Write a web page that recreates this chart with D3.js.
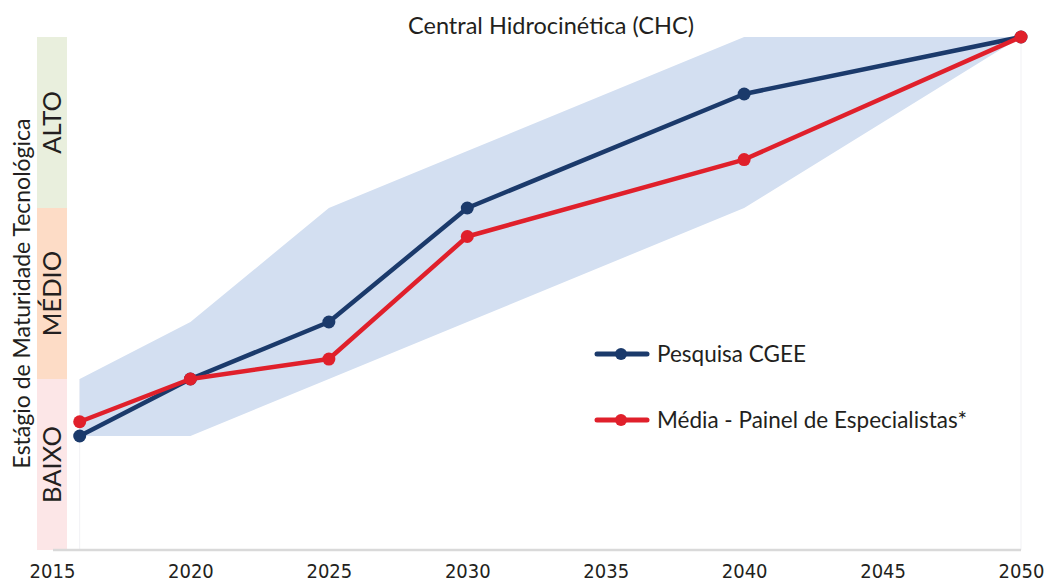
<!DOCTYPE html>
<html>
<head>
<meta charset="utf-8">
<script src="https://cdn.jsdelivr.net/npm/d3@7"></script>
<style>
  html, body { margin: 0; padding: 0; background: #fff; }
  svg { display: block; }
</style>
</head>
<body>
<svg id="chart" width="1046" height="582"></svg>
<script>
// Technology readiness stage (0–9) over time
const years = [2016, 2020, 2025, 2030, 2040, 2050];
const pesquisaCGEE = [2, 3, 4, 6, 8, 9];
const mediaPainel = [2.25, 3, 3.35, 5.5, 6.85, 9];
const faixaSuperior = [3, 4, 6, 7, 9, 9];
const faixaInferior = [2, 2, 3, 4, 6, 9];
const xTicks = [2015, 2020, 2025, 2030, 2035, 2040, 2045, 2050];
const stages = [
  { label: "BAIXO", from: 0, to: 3, color: "#fce6e7" },
  { label: "MÉDIO", from: 3, to: 6, color: "#fddcc6" },
  { label: "ALTO", from: 6, to: 9, color: "#e9efdd" }
];
const seriesNames = ["Pesquisa CGEE", "Média - Painel de Especialistas*"];
const seriesColors = ["#1b3a6b", "#e0202b"];

const svg = d3.select("#chart");
const x = d3.scaleLinear().domain([2015, 2050]).range([52, 1021]);
const y = d3.scaleLinear().domain([0, 9]).range([550, 37]);

const fontMain = "Lato, 'Open Sans', sans-serif";
const fontTick = "'DejaVu Sans Condensed', 'Liberation Sans Narrow', sans-serif";

// stage bands on the left
const bandX = 37, bandW = 30;
svg.append("g").selectAll("rect").data(stages).join("rect")
  .attr("x", bandX).attr("width", bandW)
  .attr("y", d => y(d.to)).attr("height", d => y(d.from) - y(d.to))
  .attr("fill", d => d.color);
svg.append("g").selectAll("text").data(stages).join("text")
  .attr("transform", d => `translate(${bandX + bandW / 2 + 9},${y((d.from + d.to) / 2)}) rotate(-90)`)
  .attr("text-anchor", "middle")
  .attr("font-family", fontMain).attr("font-size", 25.5)
  .attr("fill", "#231f20")
  .text(d => d.label);

// y axis title
svg.append("text")
  .attr("transform", `translate(30,${y(4.5)}) rotate(-90)`)
  .attr("text-anchor", "middle")
  .attr("font-family", fontMain).attr("font-size", 23)
  .attr("fill", "#231f20")
  .text("Estágio de Maturidade Tecnológica");

// faint verticals at the ends of the data
svg.append("g").selectAll("line").data([years[0], years[years.length - 1]]).join("line")
  .attr("x1", d => x(d)).attr("x2", d => x(d))
  .attr("y1", y(0)).attr("y2", (d, i) => y(i === 0 ? faixaSuperior[0] : 9))
  .attr("stroke", "#f1f1f4").attr("stroke-width", 1);

// range of expert answers
const bandData = years.map((yr, i) => ({ yr, lo: faixaInferior[i], hi: faixaSuperior[i] }));
svg.append("path").datum(bandData)
  .attr("fill", "#d3dff1")
  .attr("d", d3.area().x(d => x(d.yr)).y0(d => y(d.lo)).y1(d => y(d.hi)));

// x axis
const xAxis = svg.append("g").attr("transform", `translate(0,${y(0)})`)
  .call(d3.axisBottom(x).tickValues(xTicks).tickFormat(d3.format("d")).tickSize(0).tickPadding(14));
xAxis.select(".domain").attr("stroke", "#d9d9d9").attr("stroke-width", 2.5)
  .attr("d", `M${x(2015) + 1},0H${x(2050)}`);
xAxis.selectAll("text")
  .attr("font-family", fontTick).attr("font-size", 20).attr("fill", "#231f20");

// series lines and markers
const series = [pesquisaCGEE, mediaPainel];
const line = d3.line().x((d, i) => x(years[i])).y(d => y(d));
series.forEach((vals, s) => {
  const g = svg.append("g");
  g.append("path").datum(vals)
    .attr("fill", "none").attr("stroke", seriesColors[s])
    .attr("stroke-width", 4.5).attr("stroke-linejoin", "round")
    .attr("d", line);
  g.selectAll("circle").data(vals).join("circle")
    .attr("cx", (d, i) => x(years[i])).attr("cy", d => y(d))
    .attr("r", 6.5).attr("fill", seriesColors[s]);
});

// title
svg.append("text")
  .attr("x", 551).attr("y", 34)
  .attr("text-anchor", "middle")
  .attr("font-family", fontMain).attr("font-size", 23.5)
  .attr("fill", "#231f20")
  .text("Central Hidrocinética (CHC)");

// legend
const legend = svg.append("g").attr("transform", "translate(597,354)");
seriesNames.forEach((name, i) => {
  const g = legend.append("g").attr("transform", `translate(0,${i * 66})`);
  g.append("line").attr("x1", 0).attr("x2", 50).attr("y1", 0).attr("y2", 0)
    .attr("stroke", seriesColors[i]).attr("stroke-width", 5).attr("stroke-linecap", "round");
  g.append("circle").attr("cx", 24).attr("cy", 0).attr("r", 6).attr("fill", seriesColors[i]);
  g.append("text").attr("x", 60).attr("y", 8)
    .attr("font-family", fontMain).attr("font-size", 22.5).attr("fill", "#231f20")
    .text(name);
});
</script>
</body>
</html>
